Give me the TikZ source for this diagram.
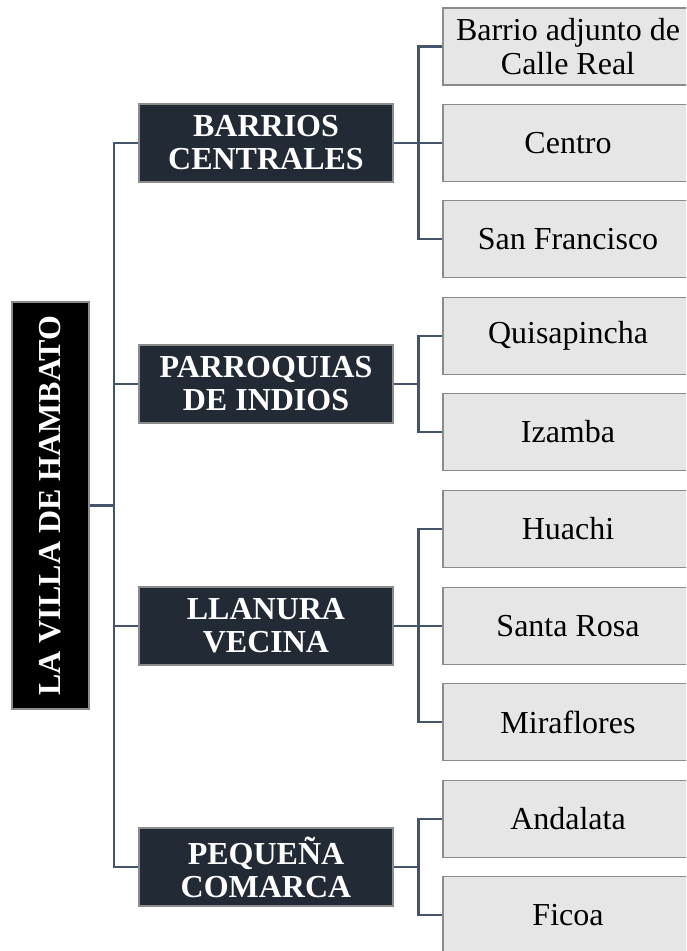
\documentclass[tikz,border=0pt]{standalone}
\usepackage{fontspec}
\setmainfont{Liberation Serif}
\definecolor{linec}{HTML}{44546A}
\definecolor{midfill}{HTML}{222A35}
\definecolor{leaffill}{HTML}{E7E6E6}
\definecolor{bordc}{HTML}{8C8C8C}
\begin{document}
\begin{tikzpicture}[x=1pt,y=-1pt,
  rootbox/.style={draw=bordc,line width=1.2pt,fill=black,text=white,minimum width=77pt,minimum height=407pt,inner sep=0pt,font=\fontsize{32}{34}\selectfont\bfseries},
  midbox/.style={draw=bordc,line width=1.2pt,fill=midfill,text=white,minimum width=254pt,minimum height=78pt,inner sep=0pt,align=center,font=\fontsize{32}{33}\selectfont\bfseries},
  leafbox/.style={draw=bordc,line width=1.2pt,fill=leaffill,text=black,minimum width=250pt,minimum height=77pt,inner sep=0pt,align=center,font=\fontsize{32}{34}\selectfont},
  conn/.style={draw=linec,line width=2.5pt}]
\useasboundingbox (0,0) rectangle (686,951);
\clip (0,0) rectangle (686,951);
\fill[white] (0,0) rectangle (686,951);
% root
\node[rootbox] (root) at (50.5,505.5) {\rotatebox{90}{LA VILLA DE HAMBATO}};
% level 1
\node[midbox] (m1) at (266,143) {BARRIOS\\CENTRALES};
\node[midbox] (m2) at (266,384) {PARROQUIAS\\DE INDIOS};
\node[midbox] (m3) at (266,626) {LLANURA\\VECINA};
\node[midbox] (m4) at (266,867) {PEQUEÑA\\COMARCA};
% leaves
\node[leafbox] (l1) at (568,46.5) {Barrio adjunto de\\Calle Real};
\node[leafbox] (l2) at (568,143) {Centro};
\node[leafbox] (l3) at (568,239) {San Francisco};
\node[leafbox] (l4) at (568,336) {Quisapincha};
\node[leafbox] (l5) at (568,432) {Izamba};
\node[leafbox] (l6) at (568,529) {Huachi};
\node[leafbox] (l7) at (568,626) {Santa Rosa};
\node[leafbox] (l8) at (568,722) {Miraflores};
\node[leafbox] (l9) at (568,819) {Andalata};
\node[leafbox] (l10) at (568,915) {Ficoa};
% trunk
\coordinate (tr) at (114,505.5);
\draw[conn] (root.east) -- (tr);
\draw[conn] (m1.west) -| (tr);
\draw[conn] (m4.west) -| (tr);
\draw[conn] (m2.west) -- (m2.west -| tr);
\draw[conn] (m3.west) -- (m3.west -| tr);
% branches
\foreach \m/\a/\b in {m1/l1/l3, m2/l4/l5, m3/l6/l8, m4/l9/l10}{
  \coordinate (\m br) at ([xshift=25pt]\m.east);
  \draw[conn] (\m.east) -- (\m br);
  \draw[conn] (\a.west) -| (\m br) |- (\b.west);
}
\draw[conn] (m1br) -- (l2.west);
\draw[conn] (m3br) -- (l7.west);
\end{tikzpicture}
\end{document}
